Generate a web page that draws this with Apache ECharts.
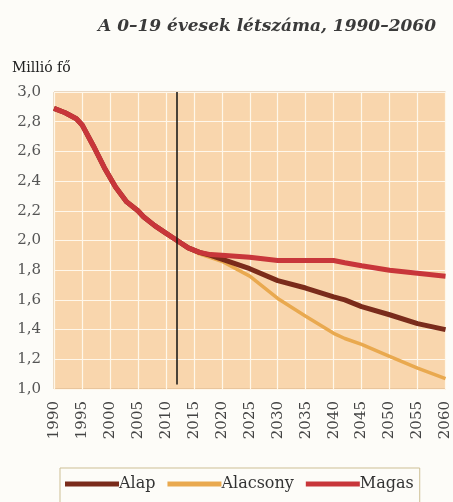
<!DOCTYPE html>
<html>
<head>
<meta charset="utf-8">
<script src="https://cdn.jsdelivr.net/npm/echarts@6/dist/echarts.min.js"></script>
<style>
  html, body { margin: 0; padding: 0; background: #fdfcf8; }
  #chart { width: 453px; height: 502px; }
</style>
</head>
<body>
<div id="chart"></div>
<script>
// Observed population aged 0–19 (million), shared by all variants
const histYears  = [1990, 1992, 1994, 1995, 1997, 1999, 2001, 2003, 2005, 2006, 2008, 2010, 2012];
const histValues = [2.89, 2.86, 2.82, 2.78, 2.64, 2.49, 2.36, 2.26, 2.20, 2.16, 2.10, 2.05, 2.00];

// Projection years and variants
const projYears = [2014, 2016, 2018, 2020, 2025, 2030, 2035, 2040, 2042, 2045, 2050, 2055, 2060];
const alap      = [1.95, 1.92, 1.90, 1.875, 1.81, 1.73, 1.68, 1.62, 1.60, 1.555, 1.50, 1.44, 1.40];
const alacsony  = [1.95, 1.91, 1.885, 1.86, 1.76, 1.61, 1.49, 1.375, 1.34, 1.30, 1.22, 1.14, 1.07];
const magas     = [1.95, 1.92, 1.905, 1.90, 1.887, 1.865, 1.865, 1.865, 1.85, 1.83, 1.80, 1.78, 1.76];

const seriesNames = ['Alap', 'Alacsony', 'Magas'];
const baseYear = 2012;

const serif = '"DejaVu Serif", "Liberation Serif", serif';

function pairs(years, values) {
  return years.map((y, i) => [y, values[i]]);
}
function fullSeries(proj) {
  return pairs(histYears, histValues).concat(pairs(projYears, proj));
}

const chart = echarts.init(document.getElementById('chart'));
chart.setOption({
  backgroundColor: '#fdfcf8',
  animation: false,
  graphic: [
    {
      type: 'text', right: 17, top: 18,
      style: {
        text: 'A 0–19 évesek létszáma, 1990–2060',
        font: 'italic bold 17px ' + serif,
        fill: '#3a3a3a'
      }
    },
    {
      type: 'text', left: 12, top: 61,
      style: { text: 'Millió fő', font: '14px ' + serif, fill: '#222' }
    }
  ],
  grid: {
    left: 54, right: 7, top: 92, bottom: 113,
    show: true, backgroundColor: '#f9d6ad', borderColor: '#d9b58a', borderWidth: 1
  },
  xAxis: {
    type: 'value', min: 1990, max: 2060, interval: 5,
    axisLine: { show: false }, axisTick: { show: false },
    splitLine: { show: true, lineStyle: { color: '#fff7ea', width: 1.2 } },
    axisLabel: {
      rotate: 90, margin: 12, color: '#444',
      fontFamily: serif, fontSize: 15,
      formatter: v => String(v)
    }
  },
  yAxis: {
    type: 'value', min: 1, max: 3, interval: 0.2,
    axisLine: { show: false }, axisTick: { show: false },
    splitLine: { show: true, lineStyle: { color: '#fff7ea', width: 1.2 } },
    axisLabel: {
      margin: 13, color: '#555', fontFamily: serif, fontSize: 15,
      formatter: v => v.toFixed(1).replace('.', ',')
    }
  },
  legend: {
    data: seriesNames,
    left: 60, top: 468,
    padding: [8, 6, 20, 5],
    borderColor: '#cdbf95', borderWidth: 1,
    icon: 'rect', itemWidth: 54, itemHeight: 5, itemGap: 12,
    textStyle: { fontFamily: serif, fontSize: 16, color: '#333', padding: [0, 0, 0, -5] }
  },
  series: [
    {
      name: 'Alap', type: 'line', data: fullSeries(alap),
      showSymbol: false, color: '#7a2b1b',
      lineStyle: { width: 5, color: '#7a2b1b' },
      markLine: {
        silent: true, symbol: 'none', label: { show: false },
        lineStyle: { color: '#111', width: 1.5, type: 'solid' },
        data: [[{ coord: [baseYear, 3.0] }, { coord: [baseYear, 1.03] }]]
      },
      z: 3
    },
    {
      name: 'Alacsony', type: 'line', data: fullSeries(alacsony),
      showSymbol: false, color: '#e9a94f',
      lineStyle: { width: 3.5, color: '#e9a94f' }, z: 2
    },
    {
      name: 'Magas', type: 'line', data: fullSeries(magas),
      showSymbol: false, color: '#c8363a',
      lineStyle: { width: 5, color: '#c8363a' }, z: 4
    }
  ]
});
</script>
</body>
</html>
